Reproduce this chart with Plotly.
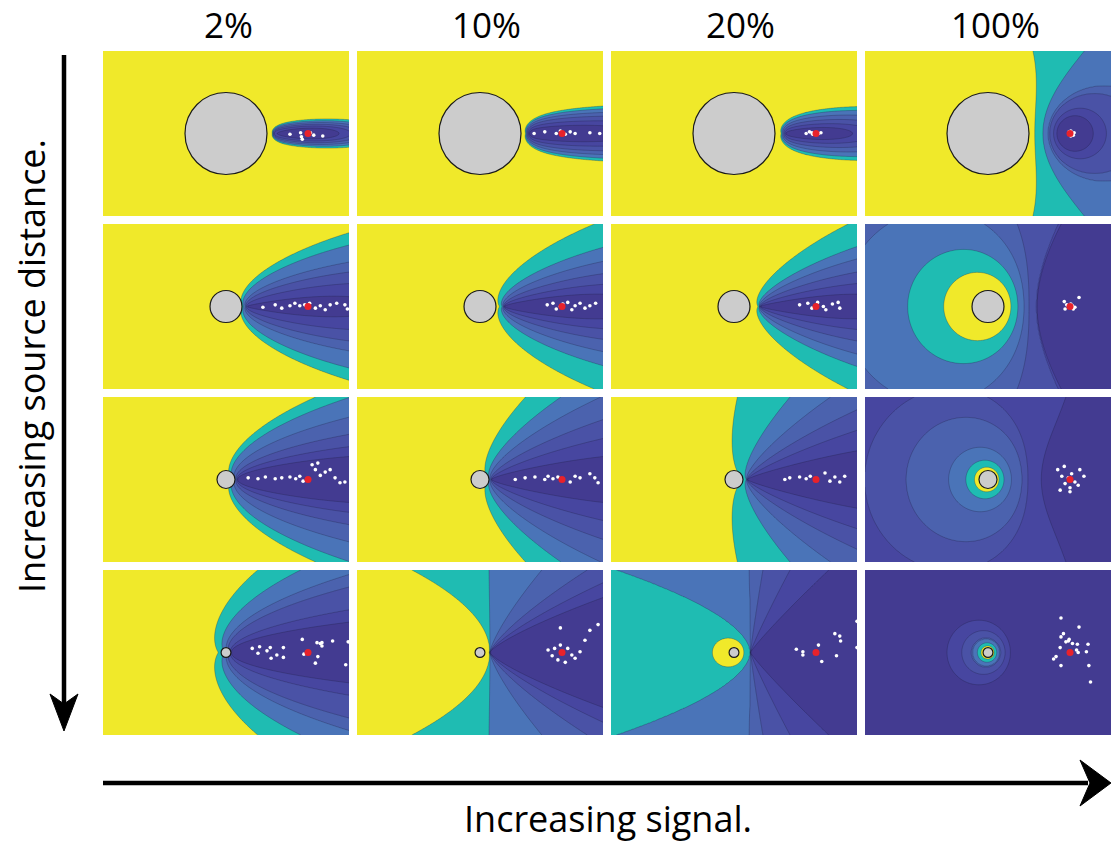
import numpy as np
import plotly.graph_objects as go

# ---------------- data ----------------
SIGNAL_LABELS = ["2%", "10%", "20%", "100%"]
ROW_TITLE = "Increasing source distance."
COL_TITLE = "Increasing signal."
OBSTACLE_RADIUS = [0.5, 0.195, 0.11, 0.06]      # per row, source distance = 1
SOURCE_X, SOURCE_Y = 1.0, 0.0

# field model per panel:
#  'ang' = bearing-type field from a vertex, 'par' = two-sided parabolic field, 'apo' = distance-ratio field
MODE = [["ang", "ang", "ang", "apo"],
        ["ang", "ang", "ang", "apo"],
        ["ang", "ang", "ang", "apo"],
        ["ang", "par", "par", "apo"]]
VERTEX = [[0.60, 0.62, 0.64, None],
          [0.26, 0.30, 0.32, None],
          [0.15, 0.14, 0.16, None],
          [0.08, 0.12, 0.20, None]]
POWER = [[0.85, 0.80, 0.80, 1.35],
         [0.50, 0.45, 0.35, 1.15],
         [0.50, 0.30, 0.20, 1.40],
         [0.50, 1.30, 1.10, 1.20]]
LEFT_POWER = [[None] * 4, [None] * 4, [None] * 4, [None, 2.0, 1.8, None]]
RADIAL = [[0.20, 0.12, 0.20, 0.0],
          [0.15, 0.15, 0.15, 0.0],
          [0.10, 0.10, 0.10, 0.0],
          [0.05, 0.05, 0.05, 0.0]]

BOUNDS_ROW1 = [
    [(1.0, 0.065), (1.0, 0.09), (1.0, 0.11), (1.0, 0.13), (1.0, 0.15), (1.0, 0.17)],
    [(1.2, 0.10), (1.2, 0.15), (1.2, 0.20), (1.2, 0.24), (1.2, 0.28), (1.2, 0.31)],
    [(1.2, 0.07), (1.2, 0.12), (1.2, 0.17), (1.2, 0.22), (1.2, 0.27), (1.2, 0.31)],
    [(0.84, 0.0), (0.80, 0.0), (0.75, 0.0), (0.735, 0.0), (0.67, 0.0), (0.57, 0.0)],
]
BOUNDS_ROW2 = [
    [(1.5, 0.12), (1.5, 0.28), (1.5, 0.42), (1.5, 0.54), (1.5, 0.75), (1.5, 0.90)],
    [(1.5, 0.15), (1.5, 0.27), (1.5, 0.40), (1.5, 0.55), (1.5, 0.72), (1.38, 1.0)],
    [(1.5, 0.15), (1.5, 0.28), (1.5, 0.42), (1.5, 0.58), (1.5, 0.73), (1.38, 1.0)],
    [(0.60, 0.0), (0.595, 0.0), (0.50, 0.0), (0.44, 0.0), (-0.98, 0.0), (-0.54, 0.0)],
]
BOUNDS_ROW3 = [
    [(1.5, 0.28), (1.5, 0.40), (1.5, 0.55), (1.5, 0.76), (1.5, 1.0), (1.08, 1.0)],
    [(1.5, 0.28), (1.5, 0.50), (1.5, 0.73), (1.46, 1.0), (0.98, 1.0), (0.55, 1.0)],
    [(1.5, 0.35), (1.5, 0.60), (1.5, 0.85), (1.17, 1.0), (0.68, 1.0), (0.04, 1.0)],
    [(0.65, 0.0), (0.0, 1.0), (-1.0, 0.0), (-0.48, 0.0), (-0.27, 0.0), (-0.165, 0.0)],
]
BOUNDS_ROW4 = [
    [(1.5, 0.37), (1.5, 0.52), (1.5, 0.80), (1.5, 0.95), (0.90, 1.0), (0.38, 1.0)],
    [(1.5, 0.67), (1.5, 0.85), (1.3, 1.0), (0.75, 1.0), (0.11, 1.0), (-0.82, 1.0)],
    [(1.15, 1.0), (0.68, 1.0), (0.35, 1.0), (0.19, 1.0), (-0.35, 0.55), None],
    [(-0.5, 0.0), (-0.32, 0.0), (-0.2, 0.0), (-0.19, 0.0), (-0.13, 0.0), (-0.085, 0.0)],
]
BOUNDS = [BOUNDS_ROW1, BOUNDS_ROW2, BOUNDS_ROW3, BOUNDS_ROW4]

# bright disc round the obstacle (row 4, 20%)
DISC_ALPHA = [[None] * 4, [None] * 4, [None] * 4, [None, None, 0.46, None]]
DISC_POINT = [[None] * 4, [None] * 4, [None] * 4, [None, None, (0.12, 0.0), None]]

# estimated particle positions (white dots) per panel
DOTS_R1C1 = [(0.78, -0.01), (0.91, 0.01), (0.92, -0.04), (0.93, -0.07), (1.03, 0.01), (1.07, -0.02), (1.18, -0.03)]
DOTS_R1C2 = [(0.66, 0.0), (0.79, 0.02), (0.93, 0.0), (0.98, 0.03), (1.04, -0.01), (1.10, 0.02), (1.16, 0.0), (1.34, 0.01), (1.46, 0.0)]
DOTS_R1C3 = [(0.88, 0.0), (0.92, 0.02), (0.96, -0.01), (0.99, 0.01), (1.03, 0.0), (1.06, 0.01), (0.95, 0.01)]
DOTS_R1C4 = [(0.99, 0.02), (1.01, 0.03), (1.03, 0.0), (1.04, -0.02), (1.01, -0.03), (1.05, 0.01)]
DOTS_R2C1 = [(0.45, -0.01), (0.60, 0.02), (0.68, -0.02), (0.78, 0.01), (0.84, 0.04), (0.90, 0.01), (0.96, 0.02), (1.02, 0.04),
             (1.09, -0.02), (1.15, 0.01), (1.21, -0.04), (1.27, 0.02), (1.35, 0.04), (1.45, 0.02), (1.48, -0.03)]
DOTS_R2C2 = [(0.82, 0.02), (0.89, 0.04), (0.93, -0.03), (0.98, 0.0), (1.01, 0.03), (1.07, 0.05), (1.12, -0.04), (1.16, 0.01),
             (1.22, 0.04), (1.28, -0.02), (1.34, 0.01), (1.41, 0.04)]
DOTS_R2C3 = [(0.80, 0.02), (0.90, 0.04), (0.95, -0.02), (1.02, 0.05), (1.09, 0.0), (1.12, -0.04), (1.20, 0.03), (1.27, 0.05), (1.29, -0.02)]
DOTS_R2C4 = [(0.93, 0.06), (0.94, -0.03), (0.96, 0.02), (0.99, 0.0), (1.01, 0.03), (1.03, 0.01), (1.04, -0.03), (1.06, -0.01), (1.11, 0.11)]
DOTS_R3C1 = [(0.27, 0.02), (0.39, 0.01), (0.48, 0.03), (0.60, 0.01), (0.68, 0.02), (0.78, 0.03), (0.85, 0.01), (0.90, 0.04), (1.05, 0.18),
             (1.09, 0.12), (1.12, 0.20), (1.15, 0.05), (1.21, 0.09), (1.27, 0.12), (1.33, 0.02), (1.39, -0.04), (1.45, -0.03), (0.94, -0.02)]
DOTS_R3C2 = [(0.43, 0.0), (0.55, 0.02), (0.67, 0.03), (0.79, 0.0), (0.83, 0.04), (0.89, 0.01), (0.95, 0.03), (1.10, -0.03), (1.16, 0.04),
             (1.22, 0.02), (1.34, 0.07), (1.40, 0.02), (1.44, -0.04)]
DOTS_R3C3 = [(0.62, 0.0), (0.68, 0.02), (0.80, 0.03), (0.88, 0.01), (0.93, 0.04), (0.99, 0.01), (1.11, 0.08), (1.17, -0.02), (1.23, 0.03),
             (1.29, -0.03), (1.35, 0.04)]
DOTS_R3C4 = [(0.85, 0.12), (0.90, 0.04), (0.94, -0.05), (0.98, 0.02), (1.0, -0.10), (1.02, 0.07), (1.06, -0.03), (1.10, -0.07), (1.12, 0.12),
             (0.93, 0.16), (1.0, -0.15), (1.17, 0.04), (0.88, -0.13)]
DOTS_R4C1 = [(0.32, 0.05), (0.41, 0.07), (0.39, -0.01), (0.50, 0.02), (0.54, 0.06), (0.55, -0.07), (0.62, -0.03), (0.70, -0.06), (0.70, 0.06),
             (0.93, 0.16), (0.95, -0.02), (1.11, 0.12), (1.15, 0.11), (1.17, 0.12), (1.17, 0.08), (1.12, -0.05), (1.09, -0.13), (1.30, 0.14),
             (1.46, -0.15), (1.49, 0.13)]
DOTS_R4C2 = [(0.83, 0.03), (0.88, -0.04), (0.91, 0.05), (0.95, -0.09), (0.98, 0.09), (1.0, 0.0), (1.04, -0.12), (1.07, 0.05), (1.12, -0.03),
             (1.16, -0.07), (1.22, 0.01), (1.28, 0.15), (1.34, 0.27), (1.44, 0.34), (0.98, 0.30)]
DOTS_R4C3 = [(0.76, 0.04), (0.84, 0.01), (0.84, -0.03), (1.03, 0.09), (1.07, -0.11), (1.23, 0.23), (1.29, 0.20), (1.30, 0.14), (1.25, -0.04),
             (1.50, 0.38), (1.50, 0.06)]
DOTS_R4C4 = [(0.89, 0.42), (1.11, 0.31), (0.92, 0.23), (0.89, 0.19), (0.99, 0.16), (0.98, 0.14), (0.95, 0.13), (1.03, 0.11), (1.09, 0.10),
             (1.22, 0.10), (0.88, 0.06), (1.08, 0.03), (1.10, 0.0), (1.20, 0.01), (0.83, -0.05), (0.80, -0.08), (0.89, -0.16), (1.23, -0.16),
             (1.25, -0.36)]
DOTS = [[DOTS_R1C1, DOTS_R1C2, DOTS_R1C3, DOTS_R1C4],
        [DOTS_R2C1, DOTS_R2C2, DOTS_R2C3, DOTS_R2C4],
        [DOTS_R3C1, DOTS_R3C2, DOTS_R3C3, DOTS_R3C4],
        [DOTS_R4C1, DOTS_R4C2, DOTS_R4C3, DOTS_R4C4]]

# ---------------- style / layout ----------------
PALETTE = ["#433b91", "#4746a0", "#4a52a6", "#4b62ae", "#4a74b8", "#1fbcb2", "#f0e92a"]
W, H = 1112, 846
COL_X0 = [103, 357, 611, 865]
ROW_Y0 = [51, 224, 397, 570]
PW, PH = 246, 165
XH = 1.5
YH = XH * PH / PW
FONT = "'Open Sans', Lato, sans-serif"
LABEL_X = [228, 486, 740, 995]

xs = np.linspace(-XH, XH, 247)
ys = np.linspace(-YH, YH, 166)
X, Y = np.meshgrid(xs, ys)


def field_ang(x, y, xe, p, m):
    x = np.asarray(x, float); y = np.asarray(y, float)
    u = x - xe
    r = np.hypot(u, y)
    th = np.arctan2(np.abs(y), u)
    ds = np.hypot(x - SOURCE_X, y - SOURCE_Y)
    return np.hypot(th * r ** p, m * ds)


def field_par(x, y, xe, a_right, a_left, m):
    x = np.asarray(x, float); y = np.asarray(y, float)
    u = x - xe
    ay = np.abs(y)
    right = np.arctan2(ay ** a_right, np.maximum(u, 0.0))
    left = np.pi - np.arctan2(ay ** a_left, np.maximum(-u, 0.0))
    phi = np.where(u >= 0, right, left)
    ds = np.hypot(x - SOURCE_X, y - SOURCE_Y)
    return np.hypot(phi, m * ds)


def field_apo(x, y, alpha):
    x = np.asarray(x, float); y = np.asarray(y, float)
    ds = np.maximum(np.hypot(x - SOURCE_X, y - SOURCE_Y), 1e-6)
    dc = np.maximum(np.hypot(x, y), 1e-6)
    return np.log(ds) - alpha * np.log(dc)


def panel_field(r, c, x, y):
    if MODE[r][c] == "ang":
        return field_ang(x, y, VERTEX[r][c], POWER[r][c], RADIAL[r][c])
    if MODE[r][c] == "par":
        return field_par(x, y, VERTEX[r][c], POWER[r][c], LEFT_POWER[r][c], RADIAL[r][c])
    return field_apo(x, y, POWER[r][c])


cscale = []
for k, col in enumerate(PALETTE):
    cscale.append([max(0.0, (k - 0.5) / 6), col])
    cscale.append([min(1.0, (k + 0.5) / 6), col])

fig = go.Figure()
layout = dict(width=W, height=H, margin=dict(l=0, r=0, t=0, b=0), autosize=False,
              paper_bgcolor="white", plot_bgcolor="white", showlegend=False)
shapes = []
annotations = []

for r in range(4):
    for c in range(4):
        n = r * 4 + c + 1
        xa = "x" if n == 1 else f"x{n}"
        ya = "y" if n == 1 else f"y{n}"
        F = panel_field(r, c, X, Y)
        lv = []
        for pt in BOUNDS[r][c]:
            lv.append(None if pt is None else float(panel_field(r, c, pt[0], pt[1])))
        for i in range(6):
            if lv[i] is None:
                lv[i] = lv[i - 1] + 10.0
        for i in range(1, 6):
            if lv[i] <= lv[i - 1]:
                lv[i] = lv[i - 1] + 1e-3
        xp = [lv[0] - (lv[1] - lv[0])] + lv + [lv[5] + (lv[5] - lv[4])]
        fp = [-0.5, 0.5, 1.5, 2.5, 3.5, 4.5, 5.5, 6.5]
        L = np.interp(F, xp, fp)
        if DISC_ALPHA[r][c] is not None:
            Fd = field_apo(X, Y, DISC_ALPHA[r][c])
            ld = float(field_apo(DISC_POINT[r][c][0], DISC_POINT[r][c][1], DISC_ALPHA[r][c]))
            L = np.maximum(L, 5.5 + (Fd - ld) * 25)
        L = np.round(np.clip(L, -0.5, 6.5), 3)

        fig.add_trace(go.Contour(
            x=xs, y=ys, z=L, colorscale=cscale, zmin=0, zmax=6, showscale=False,
            autocontour=False, contours=dict(start=0.5, end=5.5, size=1, coloring="fill"),
            line=dict(width=0.6, color="rgba(25,25,55,0.45)"), hoverinfo="skip",
            xaxis=xa, yaxis=ya))

        d = DOTS[r][c]
        fig.add_trace(go.Scatter(x=[p[0] for p in d], y=[p[1] for p in d], mode="markers",
                                 marker=dict(size=3.6, color="white"), hoverinfo="skip",
                                 xaxis=xa, yaxis=ya))
        fig.add_trace(go.Scatter(x=[SOURCE_X], y=[SOURCE_Y], mode="markers",
                                 marker=dict(size=7, color="#e8222b"), hoverinfo="skip",
                                 xaxis=xa, yaxis=ya))

        R = OBSTACLE_RADIUS[r]
        shapes.append(dict(type="circle", xref=xa, yref=ya, x0=-R, x1=R, y0=-R, y1=R,
                           fillcolor="#cccccc", line=dict(color="#1a1a1a", width=1.2)))

        x0 = COL_X0[c]; y0 = ROW_Y0[r]
        axn = "xaxis" if n == 1 else f"xaxis{n}"
        ayn = "yaxis" if n == 1 else f"yaxis{n}"
        layout[axn] = dict(domain=[x0 / W, (x0 + PW) / W], range=[-XH, XH], visible=False,
                           anchor=ya, fixedrange=True)
        layout[ayn] = dict(domain=[1 - (y0 + PH) / H, 1 - y0 / H], range=[-YH, YH], visible=False,
                           anchor=xa, fixedrange=True)

for c in range(4):
    annotations.append(dict(x=LABEL_X[c] / W, y=1.0, xref="paper", yref="paper",
                            text=SIGNAL_LABELS[c], showarrow=False, xanchor="center", yanchor="top",
                            borderpad=0, font=dict(family=FONT, size=35, color="black")))
annotations.append(dict(x=608 / W, y=1 - 818 / H, xref="paper", yref="paper", text=COL_TITLE,
                        showarrow=False, xanchor="center", yanchor="middle",
                        font=dict(family=FONT, size=36, color="black")))
annotations.append(dict(x=31 / W, y=1 - 366 / H, xref="paper", yref="paper", text=ROW_TITLE,
                        showarrow=False, xanchor="center", yanchor="middle", textangle=-90,
                        font=dict(family=FONT, size=36, color="black")))


def P(px, py):
    return f"{px / W:.5f},{1 - py / H:.5f}"


shapes.append(dict(type="line", xref="paper", yref="paper", x0=103 / W, x1=1088 / W,
                   y0=1 - 783 / H, y1=1 - 783 / H, line=dict(color="black", width=4.5)))
shapes.append(dict(type="path", xref="paper", yref="paper",
                   path=f"M {P(1111, 783)} L {P(1080, 760)} L {P(1090, 783)} L {P(1080, 806)} Z",
                   fillcolor="black", line=dict(color="black", width=1)))
shapes.append(dict(type="line", xref="paper", yref="paper", x0=64 / W, x1=64 / W,
                   y0=1 - 55 / H, y1=1 - 712 / H, line=dict(color="black", width=4.5)))
shapes.append(dict(type="path", xref="paper", yref="paper",
                   path=f"M {P(64, 731)} L {P(50, 694)} L {P(64, 704)} L {P(78, 694)} Z",
                   fillcolor="black", line=dict(color="black", width=1)))

layout["shapes"] = shapes
layout["annotations"] = annotations
fig.update_layout(**layout)
fig.write_html("out.html", config={"displayModeBar": False})
